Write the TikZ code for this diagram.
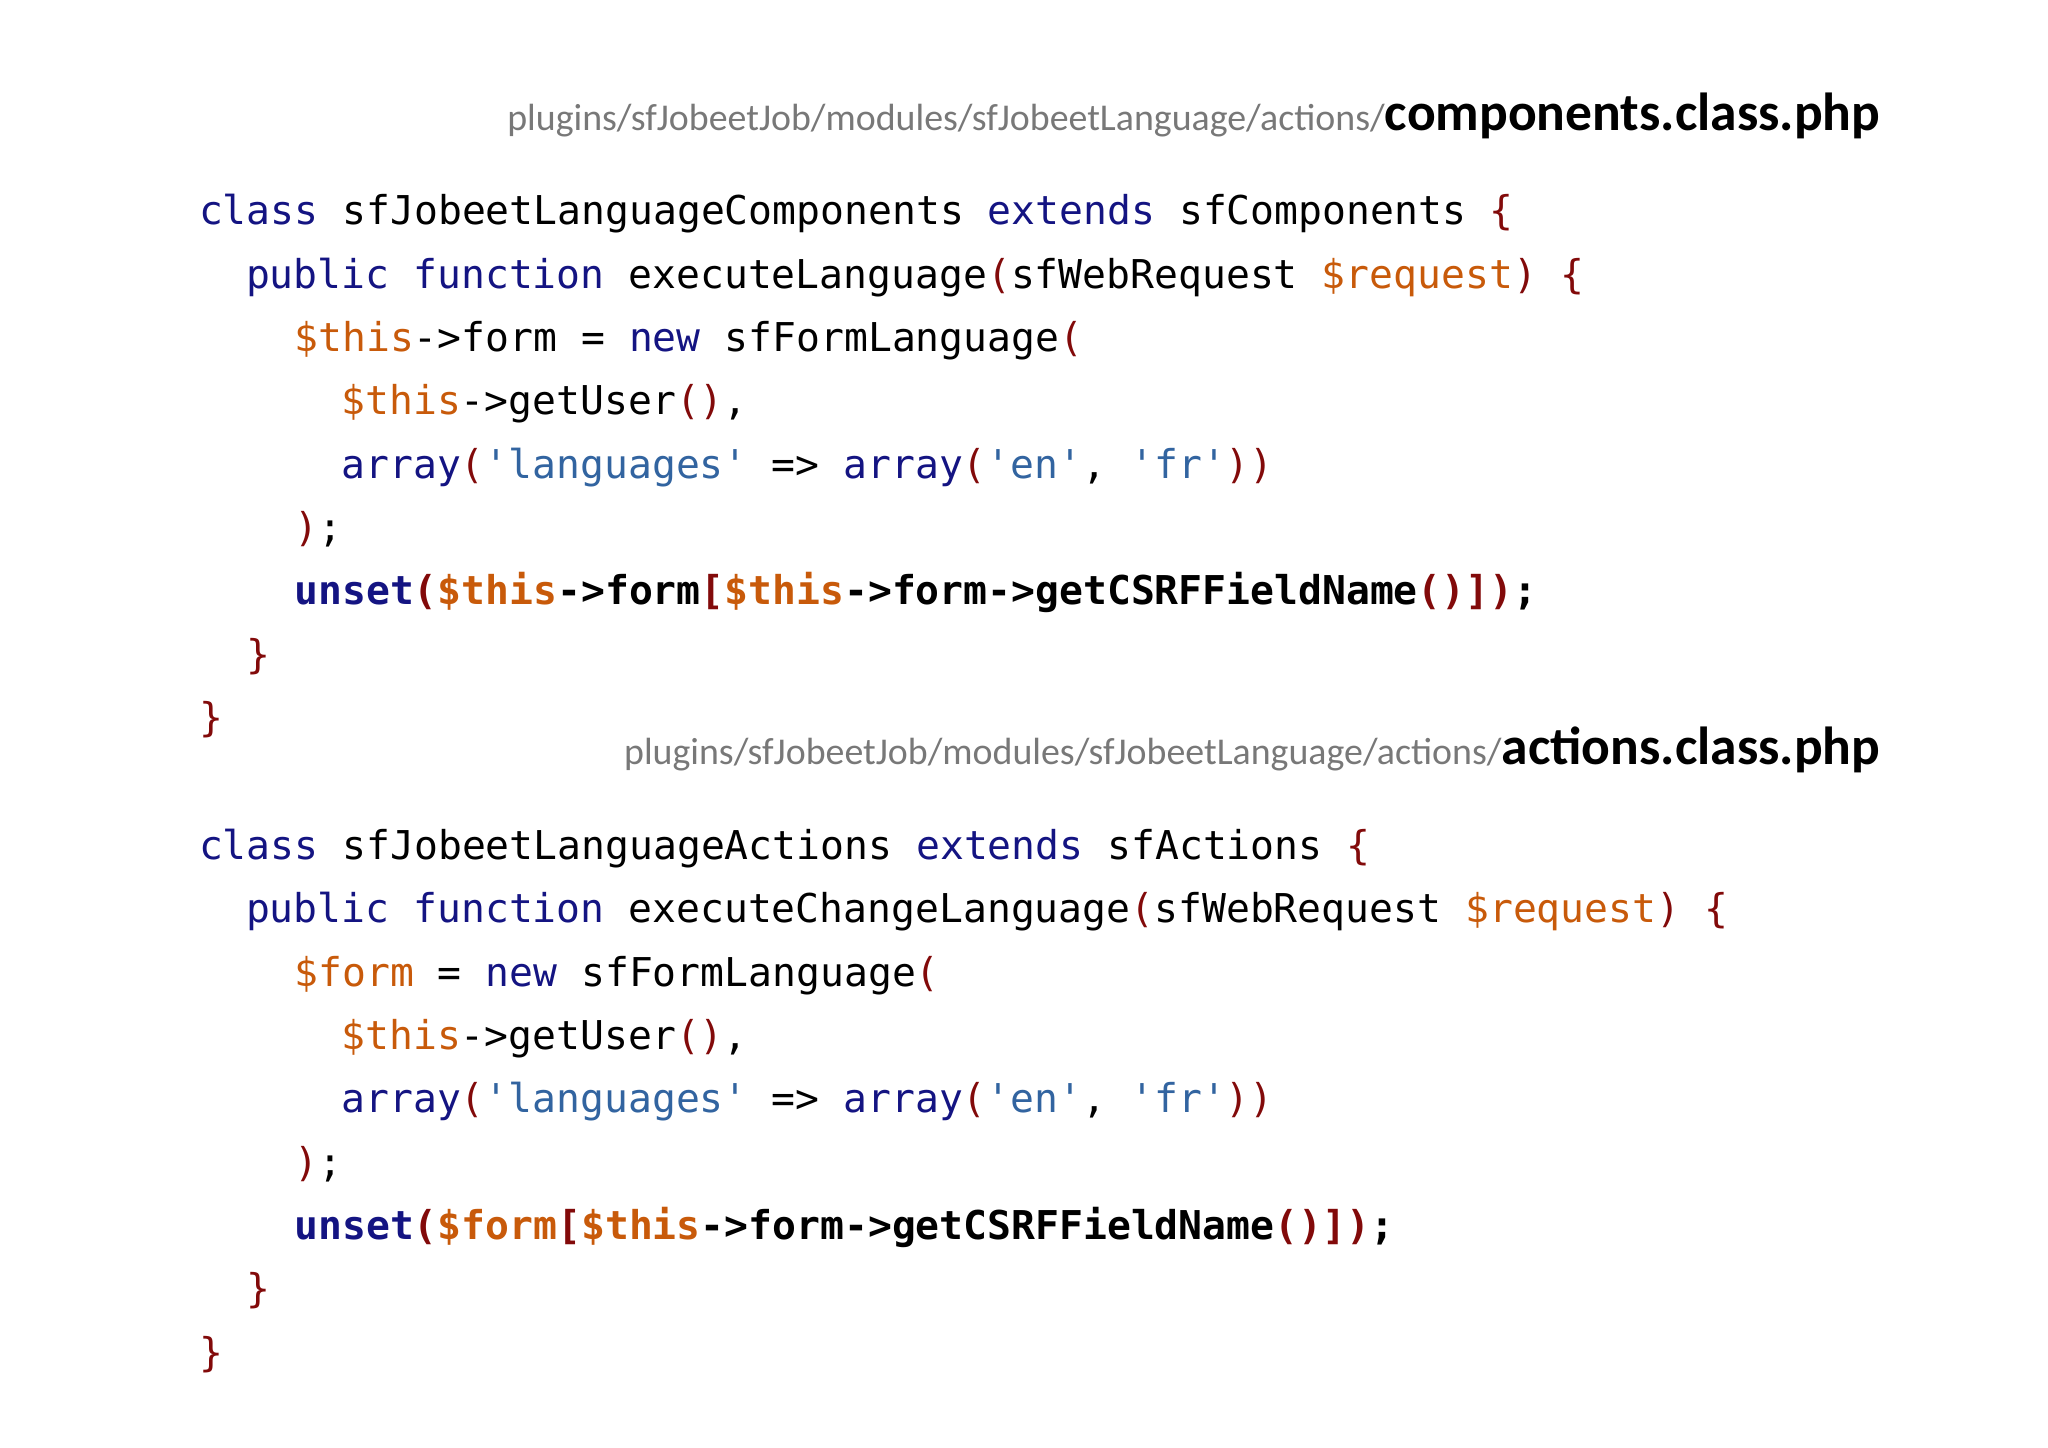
\documentclass[tikz,border=0pt]{standalone}
\usepackage{fontspec}
\setmainfont{Carlito}
\setmonofont{DejaVu Sans Mono}
\definecolor{kw}{RGB}{20,20,130}
\definecolor{vr}{RGB}{200,90,10}
\definecolor{pn}{RGB}{130,10,10}
\definecolor{sg}{RGB}{50,100,160}
\definecolor{pth}{RGB}{120,120,120}
\newcommand\Kw[1]{\textcolor{kw}{#1}}
\newcommand\Vr[1]{\textcolor{vr}{#1}}
\newcommand\Pn[1]{\textcolor{pn}{#1}}
\newcommand\Sg[1]{\textcolor{sg}{#1}}
\begin{document}
\begin{tikzpicture}[x=0.5pt,y=-0.5pt,
  code/.style={anchor=base west,inner sep=0,font=\ttfamily\fontsize{15.2}{18}\selectfont},
  hdr/.style={anchor=base east,inner sep=0}]
\useasboundingbox (0,0) rectangle (1568,1108);
\node[hdr] (h1) at (1440,100) {\textcolor{pth}{\fontsize{14.5}{16}\selectfont plugins/sfJobeetJob/modules/sfJobeetLanguage/actions/}\textbf{\fontsize{20.5}{22}\selectfont components.class.php}};
\node[code] (a1) at (152,172) {\Kw{class} sfJobeetLanguageComponents \Kw{extends} sfComponents \Pn{\{}};
\node[code] (a2) at (188,220.5) {\Kw{public} \Kw{function} executeLanguage\Pn{(}sfWebRequest \Vr{\$request}\Pn{)} \Pn{\{}};
\node[code] (a3) at (225,269) {\Vr{\$this}->form = \Kw{new} sfFormLanguage\Pn{(}};
\node[code] (a4) at (261,317.5) {\Vr{\$this}->getUser\Pn{()},};
\node[code] (a5) at (261,366) {\Kw{array}\Pn{(}\Sg{'languages'} => \Kw{array}\Pn{(}\Sg{'en'}, \Sg{'fr'}\Pn{))}};
\node[code] (a6) at (225,414.5) {\Pn{)};};
\node[code,font=\ttfamily\bfseries\fontsize{15.2}{18}\selectfont] (a7) at (225,463) {\Kw{unset}\Pn{(}\Vr{\$this}->form\Pn{[}\Vr{\$this}->form->getCSRFFieldName\Pn{()]}\Pn{)};};
\node[code] (a8) at (188,511.5) {\Pn{\}}};
\node[code] (a9) at (152,560) {\Pn{\}}};
\node[hdr] (h2) at (1440,585) {\textcolor{pth}{\fontsize{14.5}{16}\selectfont plugins/sfJobeetJob/modules/sfJobeetLanguage/actions/}\textbf{\fontsize{20.5}{22}\selectfont actions.class.php}};
\node[code] (b1) at (152,658) {\Kw{class} sfJobeetLanguageActions \Kw{extends} sfActions \Pn{\{}};
\node[code] (b2) at (188,706.5) {\Kw{public} \Kw{function} executeChangeLanguage\Pn{(}sfWebRequest \Vr{\$request}\Pn{)} \Pn{\{}};
\node[code] (b3) at (225,755) {\Vr{\$form} = \Kw{new} sfFormLanguage\Pn{(}};
\node[code] (b4) at (261,803.5) {\Vr{\$this}->getUser\Pn{()},};
\node[code] (b5) at (261,852) {\Kw{array}\Pn{(}\Sg{'languages'} => \Kw{array}\Pn{(}\Sg{'en'}, \Sg{'fr'}\Pn{))}};
\node[code] (b6) at (225,900.5) {\Pn{)};};
\node[code,font=\ttfamily\bfseries\fontsize{15.2}{18}\selectfont] (b7) at (225,949) {\Kw{unset}\Pn{(}\Vr{\$form}\Pn{[}\Vr{\$this}->form->getCSRFFieldName\Pn{()]}\Pn{)};};
\node[code] (b8) at (188,997.5) {\Pn{\}}};
\node[code] (b9) at (152,1046) {\Pn{\}}};
\end{tikzpicture}
\end{document}
